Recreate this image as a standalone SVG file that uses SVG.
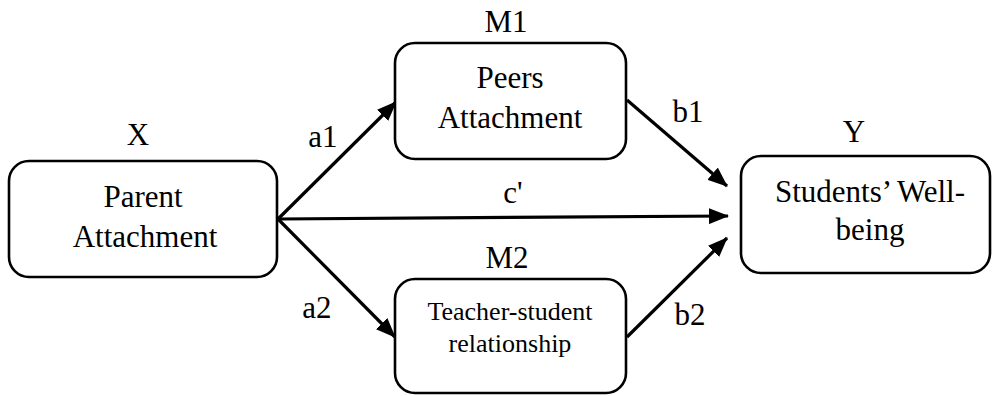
<svg xmlns="http://www.w3.org/2000/svg" width="993" height="396" viewBox="0 0 993 396">
<style>
.box{fill:#fff;stroke:#000;stroke-width:2.6}
.t{font-family:"Times New Roman","Liberation Serif",Times,serif;font-size:31px;fill:#000;text-anchor:middle}
.s{font-size:26px}
.c{stroke:#000;stroke-width:3.2;fill:none;marker-end:url(#ah)}
</style>
<defs>
<marker id="ah" markerUnits="userSpaceOnUse" markerWidth="20" markerHeight="16" refX="19" refY="8" orient="auto">
<path d="M0,0 L20,8 L0,16 Z" fill="#000"/>
</marker>
</defs>
<rect width="993" height="396" fill="#fff"/>
<g id="connectors">
<line class="c" x1="278" y1="219" x2="396" y2="102"/>
<line class="c" x1="278" y1="219" x2="728" y2="216"/>
<line class="c" x1="278" y1="219" x2="395" y2="337"/>
<line class="c" x1="627" y1="100" x2="727" y2="186"/>
<line class="c" x1="627" y1="337" x2="727" y2="238"/>
<text class="t" x="323" y="147">a1</text>
<text class="t" x="317" y="318">a2</text>
<text class="t" x="688" y="122">b1</text>
<text class="t" x="690" y="325">b2</text>
<text class="t" x="513" y="203">c'</text>
</g>
<g id="X">
<rect class="box" x="9" y="161" width="268" height="116" rx="20"/>
<text class="t" x="138" y="145">X</text>
<text class="t" x="143" y="207">Parent</text>
<text class="t" x="145" y="247">Attachment</text>
</g>
<g id="M1">
<rect class="box" x="395" y="43" width="231" height="116" rx="20"/>
<text class="t" x="506" y="32">M1</text>
<text class="t" x="510" y="88">Peers</text>
<text class="t" x="510" y="128">Attachment</text>
</g>
<g id="M2">
<rect class="box" x="395" y="279" width="231" height="114" rx="20"/>
<text class="t" x="507" y="268">M2</text>
<text class="t s" x="510" y="320">Teacher-student</text>
<text class="t s" x="510" y="352">relationship</text>
</g>
<g id="Y">
<rect class="box" x="741" y="156" width="249" height="117" rx="20"/>
<text class="t" x="854" y="142">Y</text>
<text class="t" x="870" y="202">Students’ Well-</text>
<text class="t" x="870" y="240">being</text>
</g>
</svg>
